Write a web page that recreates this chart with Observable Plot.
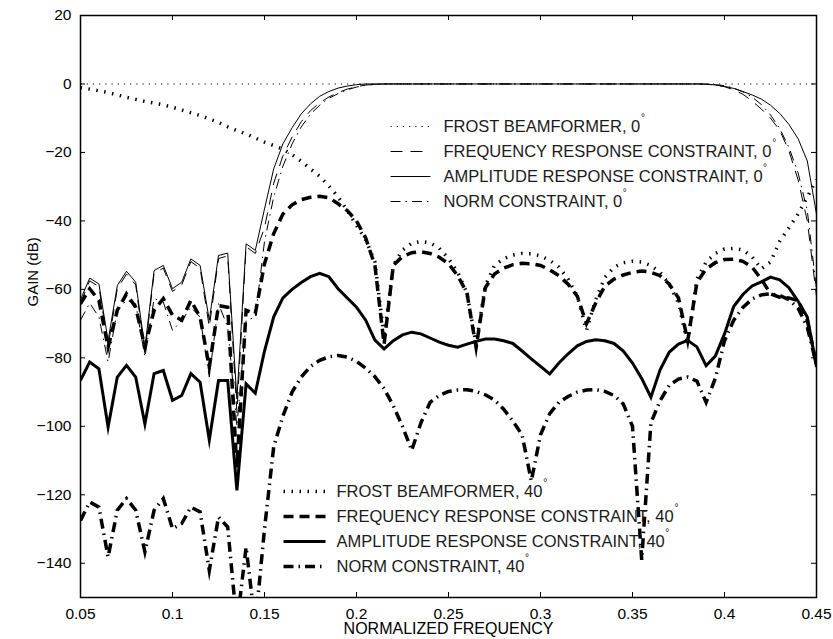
<!DOCTYPE html>
<html><head><meta charset="utf-8">
<script src="https://cdn.jsdelivr.net/npm/d3@7"></script>
<script src="https://cdn.jsdelivr.net/npm/@observablehq/plot@0.6"></script>
<style>
html,body{margin:0;padding:0;background:#fff;}
#chart svg{display:block;}
</style></head><body><div id="chart"></div>
<script>
// ---- data ----
const freq = [0.05,0.055,0.06,0.065,0.07,0.075,0.08,0.085,0.09,0.095,
  0.1,0.105,0.11,0.115,0.12,0.125,0.13,0.135,0.14,0.145,
  0.15,0.155,0.16,0.165,0.17,0.175,0.18,0.185,0.19,0.195,
  0.2,0.205,0.21,0.215,0.22,0.225,0.23,0.235,0.24,0.245,
  0.25,0.255,0.26,0.265,0.27,0.275,0.28,0.285,0.29,0.295,
  0.3,0.305,0.31,0.315,0.32,0.325,0.33,0.335,0.34,0.345,
  0.35,0.355,0.36,0.365,0.37,0.375,0.38,0.385,0.39,0.395,
  0.4,0.405,0.41,0.415,0.42,0.425,0.43,0.435,0.44,0.445,0.45];

const frostFreq = [0.05, 0.45];
const frost0 = [0, 0];

const freqResp0 = [-64,-57.5,-59.2,-76.5,-59.8,-55.5,-58.7,-78.5,-55.3,-53.8,
  -60.6,-58.7,-51.9,-53.8,-71,-51,-50.2,-96,-47.5,-49.5,
  -42,-29,-21,-15.5,-11,-7.8,-5.5,-3.8,-2.5,-1.5,
  -0.8,-0.3,-0.1,0,0,0,0,0,0,0,
  0,0,0,0,0,0,0,0,0,0,
  0,0,0,0,0,0,0,0,0,0,
  0,0,0,0,0,0,0,0,-0.1,-0.3,
  -0.8,-1.7,-3,-5,-7.3,-10,-13.5,-19.5,-28,-40,-62];

const ampResp0 = [-63,-56.7,-58.4,-75,-58.9,-54.7,-57.9,-77,-54.5,-53,
  -59.8,-57.9,-51.1,-53,-69,-50.1,-49.4,-92,-46.7,-48.6,
  -36.5,-24.8,-17.5,-12.8,-8.7,-5.8,-3.6,-2.2,-1.2,-0.6,
  -0.2,0,0,0,0,0,0,0,0,0,
  0,0,0,0,0,0,0,0,0,0,
  0,0,0,0,0,0,0,0,0,0,
  0,0,0,0,0,0,0,0,0,-0.3,
  -0.7,-1.3,-2.2,-3.2,-4.4,-6.2,-8.6,-11.8,-16,-22.5,-38];

const norm0 = [-69,-64,-68.1,-81.2,-66.1,-63.2,-64.2,-79.8,-62.7,-63.7,
  -72,-69.1,-65.2,-68.1,-85.6,-64.2,-71,-100,-69.1,-68.1,
  -46,-33,-24,-17.5,-12.5,-8.8,-6.2,-4.2,-2.8,-1.7,
  -0.9,-0.4,-0.1,0,0,0,0,0,0,0,
  0,0,0,0,0,0,0,0,0,0,
  0,0,0,0,0,0,0,0,0,0,
  0,0,0,0,0,0,0,0,0,-0.2,
  -0.5,-1.2,-2.3,-3.8,-6,-9,-13,-18.5,-26,-37,-60];

const frost40 = [-1.1,-1.5,-2,-2.5,-3.2,-3.9,-4.5,-5.1,-5.6,-6.1,
  -6.8,-7.6,-8.4,-9.2,-10.2,-11.2,-12.5,-13.6,-14.6,-15.8,
  -17,-18,-19,-20.6,-22.6,-24.8,-27,-29.8,-33,-37,
  -41.3,-45.5,-52,-74,-53,-48.5,-46.5,-46,-46.4,-48,
  -51,-55,-61,-76,-59,-53,-51,-50,-49.5,-49.6,
  -50.2,-51.5,-53.5,-57,-62,-72,-63,-56.5,-53.5,-52.2,
  -51.8,-52,-53,-55,-58.5,-64,-76,-57,-52,-49.5,
  -48.2,-48,-48.5,-50.5,-54,-52,-46,-42,-38,-33,-28];

const freqResp40 = [-64.2,-59.8,-63.2,-76.9,-66.1,-61.3,-65.2,-76.9,-66.1,-62.7,
  -67.5,-69,-63.2,-68.1,-82.7,-64.7,-65.2,-112,-66.1,-67.1,
  -52.5,-43.7,-38,-35.3,-33.8,-33.1,-32.8,-33.2,-35,-37,
  -40,-45,-53,-76,-53,-50.4,-49.3,-49,-49.5,-50.6,
  -52.5,-56,-61,-77,-59.5,-55.5,-53.8,-52.8,-52.4,-52.5,
  -53,-54.3,-56,-58.5,-62,-70,-64,-59,-57,-55.8,
  -55,-54.6,-55,-56,-58.5,-62.5,-75,-58,-54,-52.2,
  -51.3,-51.2,-51.8,-53.5,-57,-61.3,-62.3,-62.5,-63.3,-69,-82];

const ampResp40 = [-86.6,-81.2,-83.2,-100.2,-85.6,-82.2,-85.6,-99.3,-84.6,-83.7,
  -92.4,-91,-84.6,-87.1,-104,-86.6,-86.6,-118.7,-87.6,-90.3,
  -78,-68,-62.5,-60,-58,-56.3,-55.3,-56.3,-59.8,-62.5,
  -65.2,-69,-74.8,-77.4,-75,-73.3,-72.5,-73,-74.2,-75.4,
  -76.3,-76.9,-76,-75.2,-74.5,-74.5,-75,-75.8,-78,-80.3,
  -82.5,-84.7,-81.5,-78.8,-76.5,-75.2,-74.7,-75,-75.8,-78,
  -81.5,-86,-91.5,-83.5,-78.3,-76,-74.9,-76.8,-82.3,-79.5,
  -73,-65,-61.5,-59,-57.8,-56.4,-57.2,-59.5,-63.5,-68.1,-82.7];

const norm40 = [-127.5,-122.1,-123.6,-138.2,-124.5,-121.1,-124.5,-136.7,-124.5,-121.1,
  -129.9,-128.4,-123.6,-125,-142.1,-126.5,-129.4,-158,-135.3,-158,
  -130,-106,-97,-90,-85.6,-82.5,-80.7,-79.7,-79.3,-79.8,
  -81,-83,-85.5,-89,-94,-100,-107,-99,-93,-91,
  -89.8,-89.4,-89.3,-89.8,-90.8,-92.3,-95,-98.5,-102.5,-116,
  -102.5,-96.3,-93,-91.3,-90,-89.4,-89.3,-89.8,-91,-93.5,
  -100,-139,-99,-92.5,-88,-86.2,-85.6,-86.8,-93,-86,
  -75,-69,-65.3,-62.8,-61.6,-61.3,-61.8,-63,-65.5,-71,-82];

const xTicks = [0.05,0.1,0.15,0.2,0.25,0.3,0.35,0.4,0.45];
const yTicks = [20,0,-20,-40,-60,-80,-100,-120,-140];
const legend0Labels = ["FROST BEAMFORMER, 0","FREQUENCY RESPONSE CONSTRAINT, 0","AMPLITUDE RESPONSE CONSTRAINT, 0","NORM CONSTRAINT, 0"];
const legend40Labels = ["FROST BEAMFORMER, 40","FREQUENCY RESPONSE CONSTRAINT, 40","AMPLITUDE RESPONSE CONSTRAINT, 40","NORM CONSTRAINT, 40"];
const degreeSign = "°";
const xLabel = "NORMALIZED FREQUENCY";
const yLabel = "GAIN (dB)";

// ---- layout & styles ----
const W = 833, H = 639, ML = 80, MR = 17, MT = 15, MB = 42;
const FW = W - ML - MR, FH = H - MT - MB;
const font = "'Liberation Sans', Arial, Helvetica, sans-serif";
const legendFont = 16.5;
const thin = [
  {strokeWidth: 1, strokeDasharray: "1.2,5"},
  {strokeWidth: 1, strokeDasharray: "12,8"},
  {strokeWidth: 1},
  {strokeWidth: 1, strokeDasharray: "10,5,1.5,5"}
];
const thick = [
  {strokeWidth: 3.5, strokeDasharray: "1.5,6.5"},
  {strokeWidth: 3.5, strokeDasharray: "10,6"},
  {strokeWidth: 3},
  {strokeWidth: 3.5, strokeDasharray: "10,5,1.5,5"}
];

const rows = (xs, ys) => xs.map((f, i) => ({f, v: ys[i]}));
const series = [
  {data: rows(frostFreq, frost0), style: thin[0]},
  {data: rows(freq, freqResp0), style: thin[1]},
  {data: rows(freq, ampResp0), style: thin[2]},
  {data: rows(freq, norm0), style: thin[3]},
  {data: rows(freq, frost40), style: thick[0]},
  {data: rows(freq, freqResp40), style: thick[1]},
  {data: rows(freq, ampResp40), style: thick[2]},
  {data: rows(freq, norm40), style: thick[3]}
];

const xInv = d3.scaleLinear([ML, W - MR], [0.05, 0.45]);
const yInv = d3.scaleLinear([MT, H - MB], [20, -150]);

const ctx = document.createElement("canvas").getContext("2d");
ctx.font = `${legendFont}px 'Liberation Sans', Arial, sans-serif`;
const textWidth = s => ctx.measureText(s).width;

function legendMarks(labels, styles, x1, x2, tx, ys) {
  const marks = [];
  labels.forEach((lab, i) => {
    marks.push(Plot.link([0], {x1: () => xInv(x1), x2: () => xInv(x2), y1: () => yInv(ys[i]), y2: () => yInv(ys[i]),
      stroke: "black", strokeLinecap: "butt", ...styles[i]}));
    marks.push(Plot.text([lab], {x: () => xInv(tx), y: () => yInv(ys[i]), text: d => d, textAnchor: "start",
      lineAnchor: "middle", fontSize: legendFont, fill: "#1a1a1a"}));
    marks.push(Plot.text([degreeSign], {x: () => xInv(tx + textWidth(lab) + 0.5), y: () => yInv(ys[i] - 8.5),
      text: d => d, textAnchor: "start", lineAnchor: "middle", fontSize: 10, fill: "#1a1a1a"}));
  });
  return marks;
}

const fmtY = d => d < 0 ? "\u2212" + Math.abs(d) : String(d);

const chart = Plot.plot({
  width: W, height: H,
  marginLeft: ML, marginRight: MR, marginTop: MT, marginBottom: MB,
  style: {fontFamily: font, fontSize: "15.5px", color: "black", background: "white"},
  x: {domain: [0.05, 0.45], axis: null},
  y: {domain: [-150, 20], axis: null},
  marks: [
    ...series.map(s => Plot.line(s.data, {x: "f", y: "v", stroke: "black", strokeLinecap: "butt",
      strokeLinejoin: "miter", strokeMiterlimit: 8, clip: true, ...s.style})),
    ...legendMarks(legend0Labels, thin, 390, 430, 443, [126, 151, 176, 201]),
    ...legendMarks(legend40Labels, thick, 283, 325, 336, [491, 516, 541, 566]),
    Plot.ruleX(xTicks, {stroke: "black", strokeWidth: 1, insetTop: FH - 5}),
    Plot.ruleX(xTicks, {stroke: "black", strokeWidth: 1, insetBottom: FH - 5}),
    Plot.ruleY(yTicks, {stroke: "black", strokeWidth: 1, insetRight: FW - 5}),
    Plot.ruleY(yTicks, {stroke: "black", strokeWidth: 1, insetLeft: FW - 5}),
    Plot.frame({stroke: "black", strokeWidth: 1.5}),
    Plot.axisX(xTicks, {tickSize: 0, tickPadding: 10, tickFormat: d => String(d), label: null, fontSize: 15.5}),
    Plot.axisY(yTicks, {tickSize: 0, tickPadding: 9, tickFormat: fmtY, label: null, fontSize: 15.5}),
    Plot.text([xLabel], {frameAnchor: "bottom", dy: 31.5, lineAnchor: "middle", text: d => d, fontSize: 16}),
    Plot.text([yLabel], {frameAnchor: "left", dx: -47, rotate: -90, lineAnchor: "middle", text: d => d, fontSize: 15})
  ]
});
document.getElementById("chart").appendChild(chart);
</script></body></html>
